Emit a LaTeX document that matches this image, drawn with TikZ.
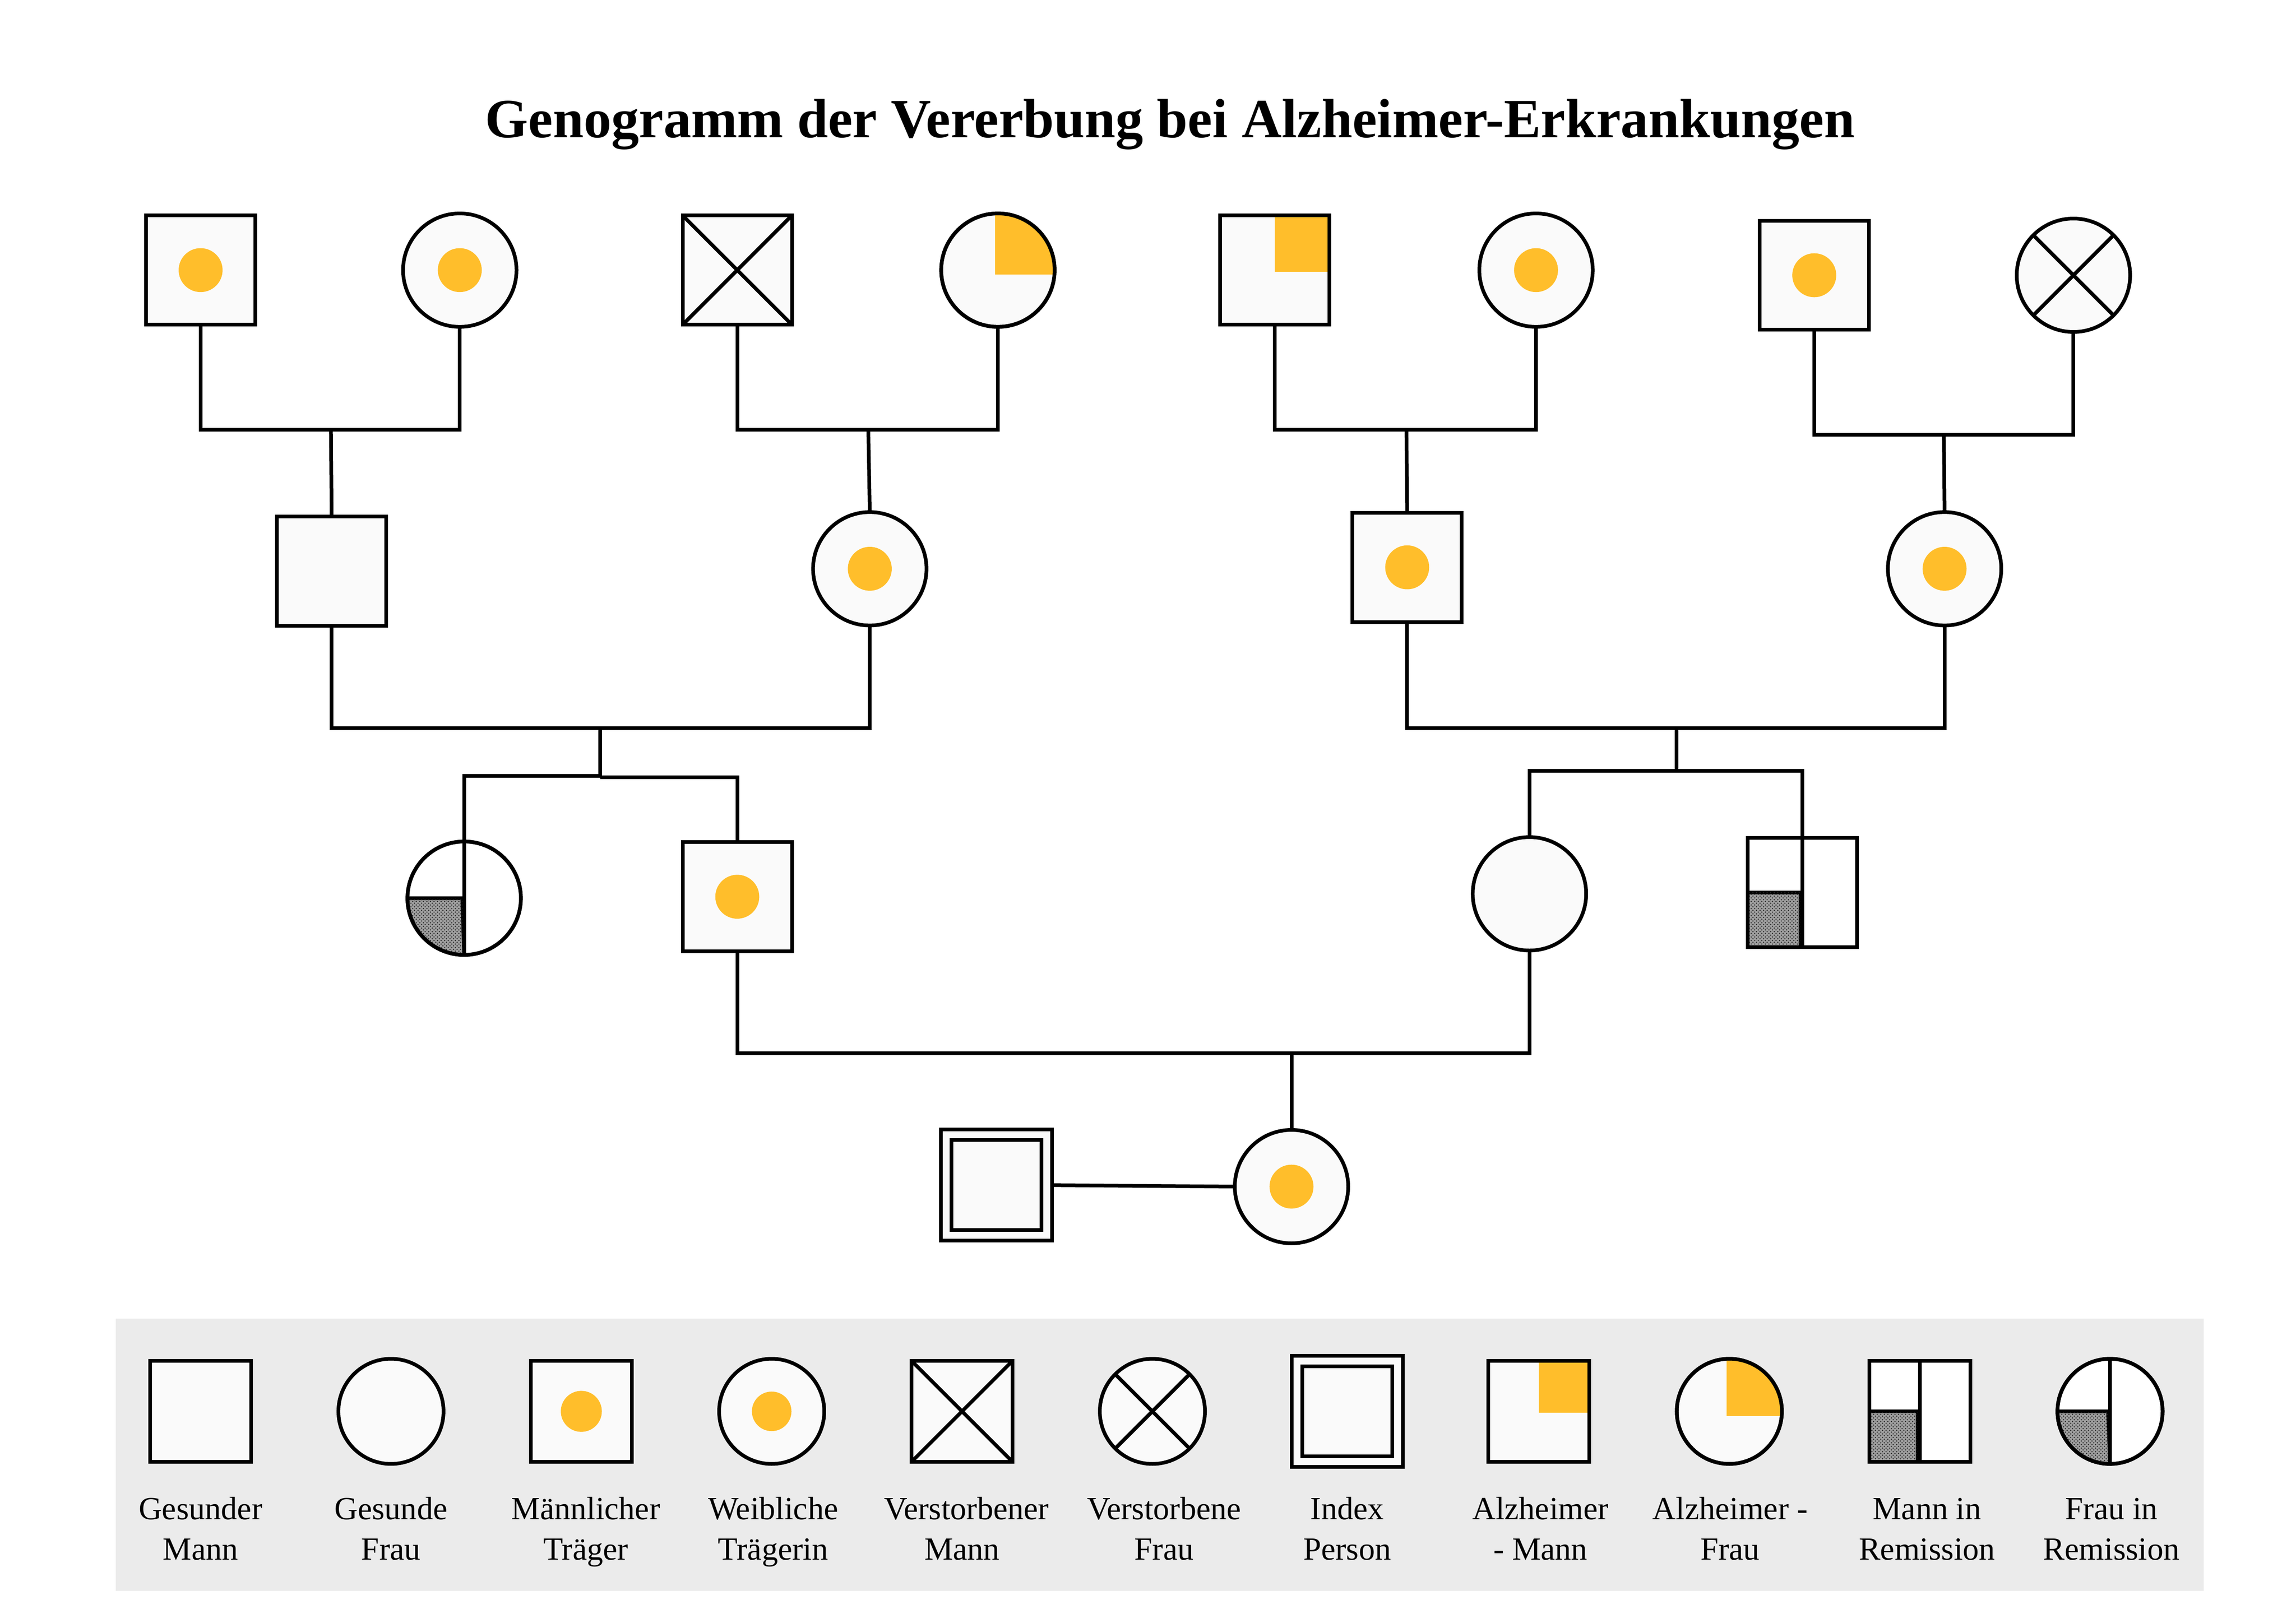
\documentclass[tikz,border=0pt]{standalone}
\usepackage{fontspec}
\setmainfont{Liberation Serif}
\usetikzlibrary{patterns}
\definecolor{amber}{HTML}{FFBE2B}
\definecolor{paper}{HTML}{FAFAFA}
\definecolor{legendbg}{HTML}{EBEBEB}
\pgfdeclarepatternformonly{finecheck}{\pgfqpoint{-0.1pt}{-0.1pt}}{\pgfqpoint{2.3pt}{2.3pt}}{\pgfqpoint{2.2pt}{2.2pt}}{
  \pgfpathcircle{\pgfqpoint{0.55pt}{0.55pt}}{0.42pt}
  \pgfpathcircle{\pgfqpoint{1.65pt}{1.65pt}}{0.42pt}
  \pgfusepath{fill}}
\tikzset{
  x=0.031888cm,y=-0.031888cm,
  stroke/.style={draw=black,line width=0.08cm},
  conn/.style={stroke,line join=miter},
  male/.style={rectangle,stroke,fill=paper,minimum size=2.38cm,inner sep=0,outer sep=0},
  female/.style={circle,stroke,fill=paper,minimum size=2.47cm,inner sep=0,outer sep=0},
  lmale/.style={male,minimum size=2.2cm},
  lfemale/.style={female,minimum size=2.29cm},
  bare/.style={fill=none},
  white/.style={fill=white},
  legendtext/.style={font=\fontsize{20}{25}\selectfont,align=center,inner sep=0,anchor=base},
  titletext/.style={font=\fontsize{34.3}{40}\selectfont\bfseries,inner sep=0,anchor=base},
  hatch/.style={fill=gray!75,postaction={pattern=finecheck,pattern color=black!85}},
}
\newcommand{\dotmark}[3]{\fill[amber] (#1,#2) circle[radius=#3];}
\newcommand{\crossbox}[3]{\draw[stroke] (#1-#3,#2-#3) -- (#1+#3,#2+#3) (#1-#3,#2+#3) -- (#1+#3,#2-#3);}
\newcommand{\crossring}[3]{\draw[stroke] (#1-#3,#2-#3) -- (#1+#3,#2+#3) (#1-#3,#2+#3) -- (#1+#3,#2-#3);}
\newcommand{\quartersq}[5]{
  \node[#5] at (#2,#3) {};
  \fill[amber] (#2,#3+1) rectangle (#2+#4,#3-#4);
  \node[#5,bare] (#1) at (#2,#3) {};}
\newcommand{\quarterring}[5]{
  \node[#5] at (#2,#3) {};
  \begin{scope}
    \clip (#2,#3) circle[radius=#4];
    \fill[amber] (#2-2,#3+3) rectangle (#2+#4,#3-#4);
  \end{scope}
  \node[#5,bare] (#1) at (#2,#3) {};}
\newcommand{\remsq}[5]{
  \node[#5,white] at (#2,#3) {};
  \draw[stroke,hatch] (#2-#4,#3) rectangle (#2-1.3,#3+#4);
  \draw[stroke] (#2,#3-#4) -- (#2,#3+#4);
  \node[#5,bare] (#1) at (#2,#3) {};}
\newcommand{\remring}[5]{
  \node[#5,white] at (#2,#3) {};
  \draw[stroke,hatch] (#2-1.3,#3) -- (#2-#4,#3) arc[start angle=180,end angle=90,radius=#4] -- cycle;
  \draw[stroke] (#2,#3-#4) -- (#2,#3+#4);
  \node[#5,bare] (#1) at (#2,#3) {};}
\begin{document}
\begin{tikzpicture}
\useasboundingbox (0,-0.5) rectangle (1568,1108.04);
\fill[white] (0,-0.5) rectangle (1568,1108.04);
\node[titletext] (title) at (799,93.5) {Genogramm der Vererbung bei Alzheimer-Erkrankungen};

% generation 1
\node[male] (a) at (137,184) {}; \dotmark{137}{184}{15}
\node[female] (b) at (314,184) {}; \dotmark{314}{184}{15}
\node[male] (c) at (503.5,184) {}; \crossbox{503.5}{184}{37.3}
\quarterring{d}{681.5}{184}{38.7}{female}
\quartersq{e}{870.5}{184}{37.3}{male}
\node[female] (f) at (1049,184) {}; \dotmark{1049}{184}{15}
\node[male] (g) at (1239,187.5) {}; \dotmark{1239}{187.5}{15}
\node[female] (h) at (1416,187.5) {}; \crossring{1416}{187.5}{27.4}

\coordinate (j1) at (226,293);
\coordinate (j2) at (593,293);
\coordinate (j3) at (960.5,293);
\coordinate (j4) at (1327.5,296.5);

% generation 2
\node[male] (i) at (226.5,389.5) {};
\node[female] (k) at (594,388) {}; \dotmark{594}{388}{15}
\node[male] (l) at (961,387) {}; \dotmark{961}{387}{15}
\node[female] (m) at (1328,388) {}; \dotmark{1328}{388}{15}

\coordinate (j5) at (410,497);
\coordinate (j6) at (1145,497);
\coordinate (j5a) at (410,529.5);
\coordinate (j5b) at (410,530.5);
\coordinate (j6a) at (1145,526);

% generation 3
\remring{n}{317}{613}{38.7}{female}
\node[male] (o) at (503.5,612) {}; \dotmark{503.5}{612}{15}
\node[female] (p) at (1044.5,610) {};
\remsq{q}{1231}{609}{37.3}{male}

\coordinate (j7) at (882,719);

% generation 4
\node[male,minimum size=2.42cm] (r) at (680.5,809) {};
\node[male,bare,minimum size=1.96cm] (rin) at (680.5,809) {};
\node[female] (s) at (882,810) {}; \dotmark{882}{810}{15}

% connectors
\draw[conn] (a.south) -- (a.south |- j1) -- (b.south |- j1) -- (b.south);
\draw[conn] (c.south) -- (c.south |- j2) -- (d.south |- j2) -- (d.south);
\draw[conn] (e.south) -- (e.south |- j3) -- (f.south |- j3) -- (f.south);
\draw[conn] (g.south) -- (g.south |- j4) -- (h.south |- j4) -- (h.south);
\draw[conn] (j1) -- (i.north);
\draw[conn] (j2) -- (k.north);
\draw[conn] (j3) -- (l.north);
\draw[conn] (j4) -- (m.north);
\draw[conn] (i.south) -- (i.south |- j5) -- (k.south |- j5) -- (k.south);
\draw[conn] (l.south) -- (l.south |- j6) -- (m.south |- j6) -- (m.south);
\draw[conn] (j5) -- (j5a);
\draw[conn] (j6) -- (j6a);
\draw[conn] (n.north) -- (n.north |- j5a) -- (j5a);
\draw[conn] (j5b) -- (o.north |- j5b) -- (o.north);
\draw[conn] (p.north) -- (p.north |- j6a) -- (q.north |- j6a) -- (q.north);
\draw[conn] (o.south) -- (o.south |- j7) -- (p.south |- j7) -- (p.south);
\draw[conn] (j7) -- (s.north);
\draw[conn] (r.east) -- (s.west);

% legend
\fill[legendbg] (79,900) rectangle (1505,1086);
\def\ly{963.5}
\node[lmale] (l1) at (137,\ly) {};
\node[lfemale] (l2) at (267,\ly) {};
\node[lmale] (l3) at (397,\ly) {}; \dotmark{397}{\ly}{14}
\node[lfemale] (l4) at (527,\ly) {}; \dotmark{527}{\ly}{13.5}
\node[lmale] (l5) at (657,\ly) {}; \crossbox{657}{\ly}{34.5}
\node[lfemale] (l6) at (787,\ly) {}; \crossring{787}{\ly}{25.4}
\node[male,minimum size=2.42cm] (l7) at (920,\ly) {};
\node[male,bare,minimum size=1.96cm] (l7in) at (920,\ly) {};
\quartersq{l8}{1051}{\ly}{34.5}{lmale}
\quarterring{l9}{1181}{\ly}{35.9}{lfemale}
\remsq{l10}{1311}{\ly}{34.5}{lmale}
\remring{l11}{1441}{\ly}{35.9}{lfemale}

\def\lb{1065}
\node[legendtext] (t1) at (137,\lb) {Gesunder\\Mann};
\node[legendtext] (t2) at (267,\lb) {Gesunde\\Frau};
\node[legendtext] (t3) at (400,\lb) {Männlicher\\Träger};
\node[legendtext] (t4) at (528,\lb) {Weibliche\\Trägerin};
\node[legendtext] (t5) at (660,\lb) {Verstorbener\\Mann\hspace*{0.19cm}};
\node[legendtext] (t6) at (795,\lb) {Verstorbene\\Frau};
\node[legendtext] (t7) at (920,\lb) {Index\\Person};
\node[legendtext] (t8) at (1052,\lb) {Alzheimer\\- Mann};
\node[legendtext] (t9) at (1181.5,\lb) {Alzheimer -\\Frau};
\node[legendtext] (t10) at (1316,\lb) {Mann in\\Remission};
\node[legendtext] (t11) at (1442,\lb) {Frau in\\Remission};
\end{tikzpicture}
\end{document}
